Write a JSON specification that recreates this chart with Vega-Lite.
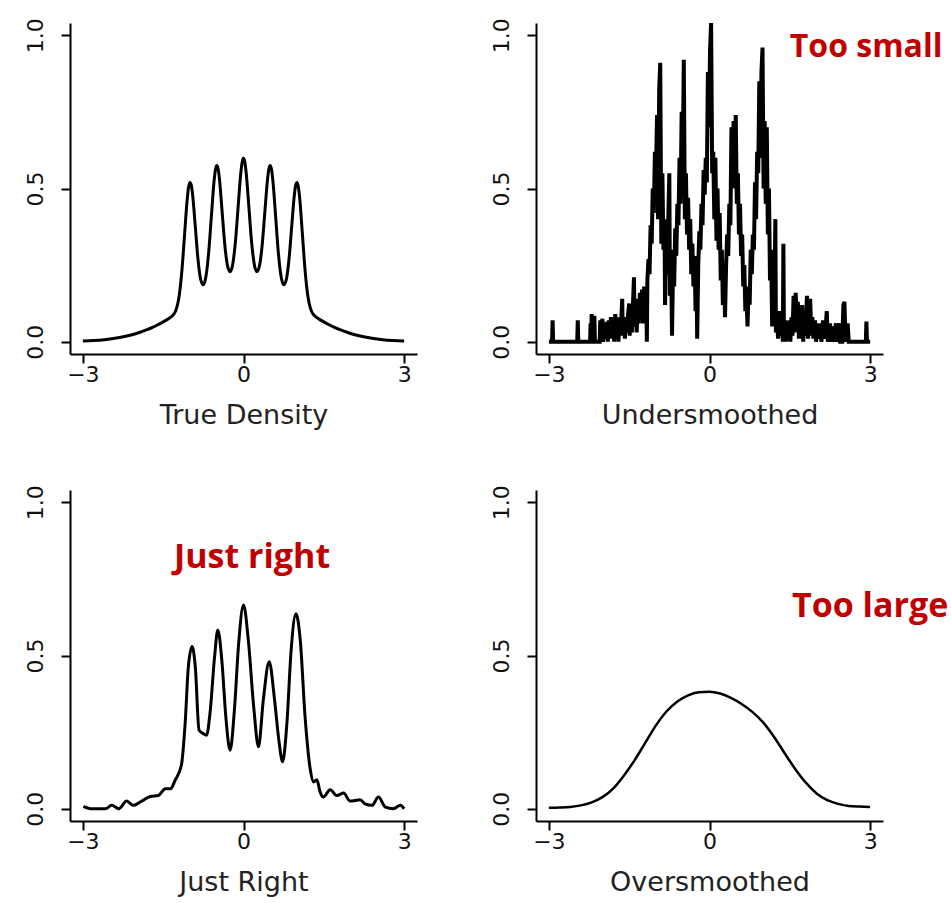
{
  "$schema": "https://vega.github.io/schema/vega-lite/v6.json",
  "autosize": {"type": "none"},
  "padding": {"left": 70, "top": 23, "right": 881, "bottom": 880},
  "background": "white",
  "bounds": "flush",
  "columns": 2,
  "spacing": {"row": 136, "column": 119},
  "datasets": {
    "trueDensity": [
      {"x": -3.0, "y": 0.0022}, {"x": -2.8, "y": 0.004}, {"x": -2.6, "y": 0.0068}, {"x": -2.4, "y": 0.0112}, {"x": -2.2, "y": 0.0177}, {"x": -2.0, "y": 0.027}, {"x": -1.9, "y": 0.0328}, {"x": -1.8, "y": 0.0395}, {"x": -1.7, "y": 0.047}, {"x": -1.6, "y": 0.0555}, {"x": -1.5, "y": 0.0648}, {"x": -1.4, "y": 0.075}, {"x": -1.35, "y": 0.0811}, {"x": -1.3, "y": 0.0901}, {"x": -1.25, "y": 0.1089}, {"x": -1.2, "y": 0.1511}, {"x": -1.15, "y": 0.2325}, {"x": -1.1, "y": 0.3509}, {"x": -1.05, "y": 0.467}, {"x": -1.025, "y": 0.5046}, {"x": -1.0, "y": 0.5199}, {"x": -0.975, "y": 0.5107}, {"x": -0.95, "y": 0.4791}, {"x": -0.9, "y": 0.3752}, {"x": -0.85, "y": 0.2694}, {"x": -0.8, "y": 0.2033}, {"x": -0.75, "y": 0.1856}, {"x": -0.7, "y": 0.2145}, {"x": -0.65, "y": 0.2919}, {"x": -0.6, "y": 0.4087}, {"x": -0.55, "y": 0.5236}, {"x": -0.525, "y": 0.5605}, {"x": -0.5, "y": 0.575}, {"x": -0.475, "y": 0.5649}, {"x": -0.45, "y": 0.5324}, {"x": -0.4, "y": 0.4262}, {"x": -0.35, "y": 0.318}, {"x": -0.3, "y": 0.2491}, {"x": -0.25, "y": 0.2284}, {"x": -0.2, "y": 0.2539}, {"x": -0.15, "y": 0.3276}, {"x": -0.1, "y": 0.4406}, {"x": -0.05, "y": 0.5513}, {"x": -0.025, "y": 0.5861}, {"x": 0.0, "y": 0.5984}, {"x": 0.025, "y": 0.5861}, {"x": 0.05, "y": 0.5513}, {"x": 0.1, "y": 0.4406}, {"x": 0.15, "y": 0.3276}, {"x": 0.2, "y": 0.2539}, {"x": 0.25, "y": 0.2284}, {"x": 0.3, "y": 0.2491}, {"x": 0.35, "y": 0.318}, {"x": 0.4, "y": 0.4262}, {"x": 0.45, "y": 0.5324}, {"x": 0.475, "y": 0.5649}, {"x": 0.5, "y": 0.575}, {"x": 0.525, "y": 0.5605}, {"x": 0.55, "y": 0.5236}, {"x": 0.6, "y": 0.4087}, {"x": 0.65, "y": 0.2919}, {"x": 0.7, "y": 0.2145}, {"x": 0.75, "y": 0.1856}, {"x": 0.8, "y": 0.2033}, {"x": 0.85, "y": 0.2694}, {"x": 0.9, "y": 0.3752}, {"x": 0.95, "y": 0.4791}, {"x": 0.975, "y": 0.5107}, {"x": 1.0, "y": 0.5199}, {"x": 1.025, "y": 0.5046}, {"x": 1.05, "y": 0.467}, {"x": 1.1, "y": 0.3509}, {"x": 1.15, "y": 0.2325}, {"x": 1.2, "y": 0.1511}, {"x": 1.25, "y": 0.1089}, {"x": 1.3, "y": 0.0901}, {"x": 1.35, "y": 0.0811}, {"x": 1.4, "y": 0.075}, {"x": 1.5, "y": 0.0648}, {"x": 1.6, "y": 0.0555}, {"x": 1.7, "y": 0.047}, {"x": 1.8, "y": 0.0395}, {"x": 1.9, "y": 0.0328}, {"x": 2.0, "y": 0.027}, {"x": 2.2, "y": 0.0177}, {"x": 2.4, "y": 0.0112}, {"x": 2.6, "y": 0.0068}, {"x": 2.8, "y": 0.004}, {"x": 3.0, "y": 0.0022}
    ],
    "under": [
      {"x": -3.0, "y": 0}, {"x": -2.94, "y": 0}, {"x": -2.93, "y": 0.07}, {"x": -2.92, "y": 0}, {"x": -2.47, "y": 0}, {"x": -2.46, "y": 0.07}, {"x": -2.45, "y": 0}, {"x": -2.23, "y": 0}, {"x": -2.22, "y": 0.06}, {"x": -2.21, "y": 0.01}, {"x": -2.2, "y": 0.09}, {"x": -2.19, "y": 0}, {"x": -2.16, "y": 0}, {"x": -2.15, "y": 0.085}, {"x": -2.14, "y": 0}, {"x": -2.05, "y": 0}, {"x": -2.04, "y": 0.07}, {"x": -2.03, "y": 0.01}, {"x": -2.0, "y": 0.075}, {"x": -1.99, "y": 0}, {"x": -1.96, "y": 0.06}, {"x": -1.94, "y": 0.01}, {"x": -1.92, "y": 0.065}, {"x": -1.9, "y": 0}, {"x": -1.88, "y": 0.07}, {"x": -1.86, "y": 0.01}, {"x": -1.84, "y": 0.08}, {"x": -1.82, "y": 0.02}, {"x": -1.8, "y": 0.06}, {"x": -1.78, "y": 0}, {"x": -1.76, "y": 0.09}, {"x": -1.74, "y": 0.02}, {"x": -1.72, "y": 0.07}, {"x": -1.7, "y": 0}, {"x": -1.68, "y": 0.08}, {"x": -1.66, "y": 0.02}, {"x": -1.64, "y": 0.1}, {"x": -1.63, "y": 0.14}, {"x": -1.62, "y": 0.02}, {"x": -1.6, "y": 0.06}, {"x": -1.58, "y": 0.01}, {"x": -1.56, "y": 0.08}, {"x": -1.54, "y": 0.03}, {"x": -1.52, "y": 0.09}, {"x": -1.5, "y": 0.125}, {"x": -1.49, "y": 0.02}, {"x": -1.47, "y": 0.1}, {"x": -1.45, "y": 0.03}, {"x": -1.43, "y": 0.12}, {"x": -1.41, "y": 0.21}, {"x": -1.4, "y": 0.05}, {"x": -1.38, "y": 0.13}, {"x": -1.36, "y": 0.03}, {"x": -1.34, "y": 0.14}, {"x": -1.32, "y": 0.06}, {"x": -1.3, "y": 0.16}, {"x": -1.28, "y": 0.08}, {"x": -1.26, "y": 0.17}, {"x": -1.24, "y": 0.06}, {"x": -1.22, "y": 0.18}, {"x": -1.2, "y": 0.1}, {"x": -1.18, "y": 0.16}, {"x": -1.17, "y": 0}, {"x": -1.16, "y": 0.2}, {"x": -1.14, "y": 0.27}, {"x": -1.12, "y": 0.22}, {"x": -1.1, "y": 0.38}, {"x": -1.08, "y": 0.32}, {"x": -1.06, "y": 0.5}, {"x": -1.04, "y": 0.42}, {"x": -1.02, "y": 0.62}, {"x": -1.0, "y": 0.55}, {"x": -0.98, "y": 0.74}, {"x": -0.96, "y": 0.4}, {"x": -0.94, "y": 0.82}, {"x": -0.92, "y": 0.91}, {"x": -0.9, "y": 0.32}, {"x": -0.88, "y": 0.55}, {"x": -0.86, "y": 0.3}, {"x": -0.84, "y": 0.4}, {"x": -0.83, "y": 0.12}, {"x": -0.81, "y": 0.35}, {"x": -0.79, "y": 0.22}, {"x": -0.77, "y": 0.4}, {"x": -0.75, "y": 0.55}, {"x": -0.74, "y": 0.15}, {"x": -0.72, "y": 0.3}, {"x": -0.7, "y": 0.02}, {"x": -0.68, "y": 0.25}, {"x": -0.66, "y": 0.18}, {"x": -0.64, "y": 0.37}, {"x": -0.62, "y": 0.28}, {"x": -0.6, "y": 0.45}, {"x": -0.58, "y": 0.38}, {"x": -0.56, "y": 0.6}, {"x": -0.54, "y": 0.45}, {"x": -0.52, "y": 0.75}, {"x": -0.5, "y": 0.55}, {"x": -0.48, "y": 0.92}, {"x": -0.46, "y": 0.4}, {"x": -0.44, "y": 0.55}, {"x": -0.42, "y": 0.35}, {"x": -0.4, "y": 0.47}, {"x": -0.38, "y": 0.3}, {"x": -0.36, "y": 0.4}, {"x": -0.34, "y": 0.22}, {"x": -0.32, "y": 0.32}, {"x": -0.3, "y": 0.18}, {"x": -0.28, "y": 0.28}, {"x": -0.26, "y": 0.1}, {"x": -0.24, "y": 0.2}, {"x": -0.23, "y": 0.01}, {"x": -0.21, "y": 0.25}, {"x": -0.19, "y": 0.36}, {"x": -0.17, "y": 0.3}, {"x": -0.15, "y": 0.45}, {"x": -0.13, "y": 0.38}, {"x": -0.11, "y": 0.56}, {"x": -0.09, "y": 0.48}, {"x": -0.07, "y": 0.6}, {"x": -0.05, "y": 0.52}, {"x": -0.03, "y": 0.88}, {"x": -0.01, "y": 0.7}, {"x": 0.01, "y": 0.95}, {"x": 0.03, "y": 1.04}, {"x": 0.05, "y": 0.55}, {"x": 0.07, "y": 0.62}, {"x": 0.09, "y": 0.4}, {"x": 0.11, "y": 0.6}, {"x": 0.13, "y": 0.33}, {"x": 0.15, "y": 0.5}, {"x": 0.17, "y": 0.3}, {"x": 0.19, "y": 0.42}, {"x": 0.21, "y": 0.2}, {"x": 0.23, "y": 0.3}, {"x": 0.25, "y": 0.12}, {"x": 0.27, "y": 0.22}, {"x": 0.29, "y": 0.08}, {"x": 0.31, "y": 0.25}, {"x": 0.33, "y": 0.35}, {"x": 0.35, "y": 0.28}, {"x": 0.37, "y": 0.45}, {"x": 0.39, "y": 0.38}, {"x": 0.41, "y": 0.7}, {"x": 0.43, "y": 0.5}, {"x": 0.45, "y": 0.72}, {"x": 0.47, "y": 0.55}, {"x": 0.49, "y": 0.74}, {"x": 0.51, "y": 0.45}, {"x": 0.53, "y": 0.55}, {"x": 0.55, "y": 0.35}, {"x": 0.57, "y": 0.45}, {"x": 0.59, "y": 0.28}, {"x": 0.61, "y": 0.35}, {"x": 0.63, "y": 0.18}, {"x": 0.65, "y": 0.25}, {"x": 0.67, "y": 0.1}, {"x": 0.69, "y": 0.15}, {"x": 0.71, "y": 0.05}, {"x": 0.73, "y": 0.18}, {"x": 0.75, "y": 0.12}, {"x": 0.77, "y": 0.3}, {"x": 0.79, "y": 0.22}, {"x": 0.81, "y": 0.35}, {"x": 0.83, "y": 0.3}, {"x": 0.85, "y": 0.52}, {"x": 0.87, "y": 0.4}, {"x": 0.89, "y": 0.62}, {"x": 0.91, "y": 0.55}, {"x": 0.93, "y": 0.85}, {"x": 0.95, "y": 0.6}, {"x": 0.97, "y": 0.88}, {"x": 0.99, "y": 0.96}, {"x": 1.01, "y": 0.5}, {"x": 1.03, "y": 0.72}, {"x": 1.05, "y": 0.45}, {"x": 1.07, "y": 0.7}, {"x": 1.09, "y": 0.35}, {"x": 1.11, "y": 0.5}, {"x": 1.13, "y": 0.2}, {"x": 1.15, "y": 0.3}, {"x": 1.17, "y": 0.05}, {"x": 1.19, "y": 0.15}, {"x": 1.21, "y": 0.1}, {"x": 1.23, "y": 0.4}, {"x": 1.24, "y": 0.03}, {"x": 1.26, "y": 0.08}, {"x": 1.28, "y": 0.01}, {"x": 1.3, "y": 0.1}, {"x": 1.32, "y": 0.02}, {"x": 1.35, "y": 0.06}, {"x": 1.37, "y": 0}, {"x": 1.38, "y": 0.32}, {"x": 1.39, "y": 0.02}, {"x": 1.41, "y": 0.07}, {"x": 1.43, "y": 0}, {"x": 1.45, "y": 0.06}, {"x": 1.47, "y": 0.01}, {"x": 1.49, "y": 0.07}, {"x": 1.51, "y": 0}, {"x": 1.53, "y": 0.08}, {"x": 1.55, "y": 0.02}, {"x": 1.57, "y": 0.15}, {"x": 1.59, "y": 0.03}, {"x": 1.61, "y": 0.16}, {"x": 1.63, "y": 0.05}, {"x": 1.65, "y": 0.13}, {"x": 1.67, "y": 0.01}, {"x": 1.69, "y": 0.09}, {"x": 1.71, "y": 0.03}, {"x": 1.73, "y": 0.12}, {"x": 1.75, "y": 0}, {"x": 1.77, "y": 0.08}, {"x": 1.79, "y": 0.02}, {"x": 1.82, "y": 0.15}, {"x": 1.84, "y": 0.01}, {"x": 1.86, "y": 0.07}, {"x": 1.88, "y": 0.14}, {"x": 1.9, "y": 0.02}, {"x": 1.92, "y": 0.08}, {"x": 1.94, "y": 0.01}, {"x": 1.97, "y": 0.07}, {"x": 1.99, "y": 0}, {"x": 2.02, "y": 0.06}, {"x": 2.04, "y": 0.01}, {"x": 2.07, "y": 0.06}, {"x": 2.09, "y": 0}, {"x": 2.12, "y": 0.07}, {"x": 2.14, "y": 0.01}, {"x": 2.17, "y": 0.05}, {"x": 2.19, "y": 0.1}, {"x": 2.21, "y": 0}, {"x": 2.25, "y": 0.06}, {"x": 2.27, "y": 0}, {"x": 2.3, "y": 0.05}, {"x": 2.32, "y": 0}, {"x": 2.36, "y": 0.06}, {"x": 2.38, "y": 0}, {"x": 2.42, "y": 0.06}, {"x": 2.44, "y": 0}, {"x": 2.48, "y": 0}, {"x": 2.5, "y": 0.12}, {"x": 2.52, "y": 0.13}, {"x": 2.54, "y": 0}, {"x": 2.58, "y": 0.06}, {"x": 2.6, "y": 0}, {"x": 2.92, "y": 0}, {"x": 2.93, "y": 0.066}, {"x": 2.94, "y": 0}, {"x": 3.0, "y": 0}
    ],
    "just": [
      {"x": -2.99, "y": 0.008}, {"x": -2.83, "y": 0.0}, {"x": -2.58, "y": 0.0}, {"x": -2.46, "y": 0.011}, {"x": -2.33, "y": 0.0}, {"x": -2.18, "y": 0.025}, {"x": -2.06, "y": 0.011}, {"x": -1.9, "y": 0.025}, {"x": -1.74, "y": 0.04}, {"x": -1.59, "y": 0.043}, {"x": -1.46, "y": 0.065}, {"x": -1.36, "y": 0.065}, {"x": -1.28, "y": 0.092}, {"x": -1.16, "y": 0.142}, {"x": -1.09, "y": 0.278}, {"x": -1.03, "y": 0.463}, {"x": -0.96, "y": 0.529}, {"x": -0.9, "y": 0.463}, {"x": -0.83, "y": 0.256}, {"x": -0.75, "y": 0.245}, {"x": -0.69, "y": 0.24}, {"x": -0.62, "y": 0.322}, {"x": -0.54, "y": 0.496}, {"x": -0.48, "y": 0.583}, {"x": -0.4, "y": 0.474}, {"x": -0.33, "y": 0.3}, {"x": -0.25, "y": 0.191}, {"x": -0.17, "y": 0.322}, {"x": -0.09, "y": 0.54}, {"x": 0.0, "y": 0.665}, {"x": 0.09, "y": 0.55}, {"x": 0.19, "y": 0.333}, {"x": 0.28, "y": 0.202}, {"x": 0.37, "y": 0.355}, {"x": 0.48, "y": 0.48}, {"x": 0.58, "y": 0.355}, {"x": 0.66, "y": 0.224}, {"x": 0.73, "y": 0.153}, {"x": 0.81, "y": 0.278}, {"x": 0.89, "y": 0.518}, {"x": 0.98, "y": 0.636}, {"x": 1.06, "y": 0.55}, {"x": 1.15, "y": 0.3}, {"x": 1.25, "y": 0.125}, {"x": 1.31, "y": 0.087}, {"x": 1.37, "y": 0.095}, {"x": 1.43, "y": 0.055}, {"x": 1.49, "y": 0.038}, {"x": 1.62, "y": 0.062}, {"x": 1.74, "y": 0.043}, {"x": 1.87, "y": 0.051}, {"x": 1.99, "y": 0.025}, {"x": 2.18, "y": 0.029}, {"x": 2.27, "y": 0.016}, {"x": 2.4, "y": 0.011}, {"x": 2.52, "y": 0.038}, {"x": 2.65, "y": 0.005}, {"x": 2.8, "y": 0.0}, {"x": 2.93, "y": 0.011}, {"x": 3.0, "y": 0.0}
    ],
    "over": [
      {"x": -3.0, "y": 0.003}, {"x": -2.8, "y": 0.004}, {"x": -2.6, "y": 0.006}, {"x": -2.4, "y": 0.011}, {"x": -2.2, "y": 0.021}, {"x": -2.0, "y": 0.038}, {"x": -1.8, "y": 0.066}, {"x": -1.6, "y": 0.108}, {"x": -1.4, "y": 0.158}, {"x": -1.2, "y": 0.215}, {"x": -1.0, "y": 0.272}, {"x": -0.8, "y": 0.318}, {"x": -0.6, "y": 0.35}, {"x": -0.4, "y": 0.37}, {"x": -0.2, "y": 0.38}, {"x": 0.0, "y": 0.382}, {"x": 0.2, "y": 0.376}, {"x": 0.4, "y": 0.362}, {"x": 0.6, "y": 0.342}, {"x": 0.8, "y": 0.316}, {"x": 1.0, "y": 0.282}, {"x": 1.2, "y": 0.236}, {"x": 1.4, "y": 0.182}, {"x": 1.6, "y": 0.13}, {"x": 1.8, "y": 0.085}, {"x": 2.0, "y": 0.05}, {"x": 2.2, "y": 0.028}, {"x": 2.4, "y": 0.016}, {"x": 2.6, "y": 0.009}, {"x": 2.8, "y": 0.007}, {"x": 3.0, "y": 0.006}
    ],
    "noteSmall": [{"x": 1.5, "y": 0.928, "label": "Too small"}],
    "noteJust": [{"x": 0.16, "y": 0.786, "label": "Just right"}],
    "noteLarge": [{"x": 1.54, "y": 0.627, "label": "Too large"}]
  },
  "concat": [
    {
      "width": 347, "height": 331,
      "data": {"name": "trueDensity"},
      "mark": {"type": "line", "color": "black", "strokeWidth": 3, "interpolate": "monotone"},
      "encoding": {
        "x": {"field": "x", "type": "quantitative", "scale": {"domain": [-3.24, 3.24], "nice": false, "zero": false}, "axis": {"values": [-3, 0, 3], "title": "True Density"}},
        "y": {"field": "y", "type": "quantitative", "scale": {"domain": [-0.04, 1.04], "nice": false, "zero": false}, "axis": {"values": [0, 0.5, 1], "format": ".1f", "title": null}}
      }
    },
    {
      "width": 347, "height": 331,
      "layer": [
        {
          "data": {"name": "under"},
          "mark": {"type": "line", "color": "black", "strokeWidth": 4, "interpolate": "linear", "strokeJoin": "miter"},
          "encoding": {
            "x": {"field": "x", "type": "quantitative", "scale": {"domain": [-3.24, 3.24], "nice": false, "zero": false}, "axis": {"values": [-3, 0, 3], "title": "Undersmoothed"}},
            "y": {"field": "y", "type": "quantitative", "scale": {"domain": [-0.04, 1.04], "nice": false, "zero": false}, "axis": {"values": [0, 0.5, 1], "format": ".1f", "title": null}}
          }
        },
        {
          "data": {"name": "noteSmall"},
          "mark": {"type": "text", "align": "left", "baseline": "alphabetic", "font": "Open Sans", "fontWeight": "bold", "fontSize": 32, "color": "#C00000"},
          "encoding": {
            "x": {"field": "x", "type": "quantitative"},
            "y": {"field": "y", "type": "quantitative"},
            "text": {"field": "label"}
          }
        }
      ]
    },
    {
      "width": 347, "height": 331,
      "layer": [
        {
          "data": {"name": "just"},
          "mark": {"type": "line", "color": "black", "strokeWidth": 3, "interpolate": "monotone"},
          "encoding": {
            "x": {"field": "x", "type": "quantitative", "scale": {"domain": [-3.24, 3.24], "nice": false, "zero": false}, "axis": {"values": [-3, 0, 3], "title": "Just Right"}},
            "y": {"field": "y", "type": "quantitative", "scale": {"domain": [-0.04, 1.04], "nice": false, "zero": false}, "axis": {"values": [0, 0.5, 1], "format": ".1f", "title": null}}
          }
        },
        {
          "data": {"name": "noteJust"},
          "mark": {"type": "text", "align": "center", "baseline": "alphabetic", "font": "Open Sans", "fontWeight": "bold", "fontSize": 34, "color": "#C00000"},
          "encoding": {
            "x": {"field": "x", "type": "quantitative"},
            "y": {"field": "y", "type": "quantitative"},
            "text": {"field": "label"}
          }
        }
      ]
    },
    {
      "width": 347, "height": 331,
      "layer": [
        {
          "data": {"name": "over"},
          "mark": {"type": "line", "color": "black", "strokeWidth": 2.5, "interpolate": "monotone"},
          "encoding": {
            "x": {"field": "x", "type": "quantitative", "scale": {"domain": [-3.24, 3.24], "nice": false, "zero": false}, "axis": {"values": [-3, 0, 3], "title": "Oversmoothed"}},
            "y": {"field": "y", "type": "quantitative", "scale": {"domain": [-0.04, 1.04], "nice": false, "zero": false}, "axis": {"values": [0, 0.5, 1], "format": ".1f", "title": null}}
          }
        },
        {
          "data": {"name": "noteLarge"},
          "mark": {"type": "text", "align": "left", "baseline": "alphabetic", "font": "Open Sans", "fontWeight": "bold", "fontSize": 34, "color": "#C00000"},
          "encoding": {
            "x": {"field": "x", "type": "quantitative"},
            "y": {"field": "y", "type": "quantitative"},
            "text": {"field": "label"}
          }
        }
      ]
    }
  ],
  "config": {
    "view": {"stroke": null},
    "axis": {
      "grid": false,
      "domainColor": "black",
      "domainWidth": 2,
      "tickColor": "black",
      "tickWidth": 2,
      "tickSize": 9,
      "labelFont": "DejaVu Sans",
      "labelFontSize": 22,
      "labelColor": "#111111",
      "titleFont": "DejaVu Sans",
      "titleFontSize": 27,
      "titleFontWeight": "normal",
      "titleColor": "#222222"
    },
    "axisX": {"labelPadding": 1, "titlePadding": 17, "labelFlush": false},
    "axisY": {"labelAngle": -90, "labelAlign": "center", "labelBaseline": "bottom", "labelPadding": 14}
  }
}
